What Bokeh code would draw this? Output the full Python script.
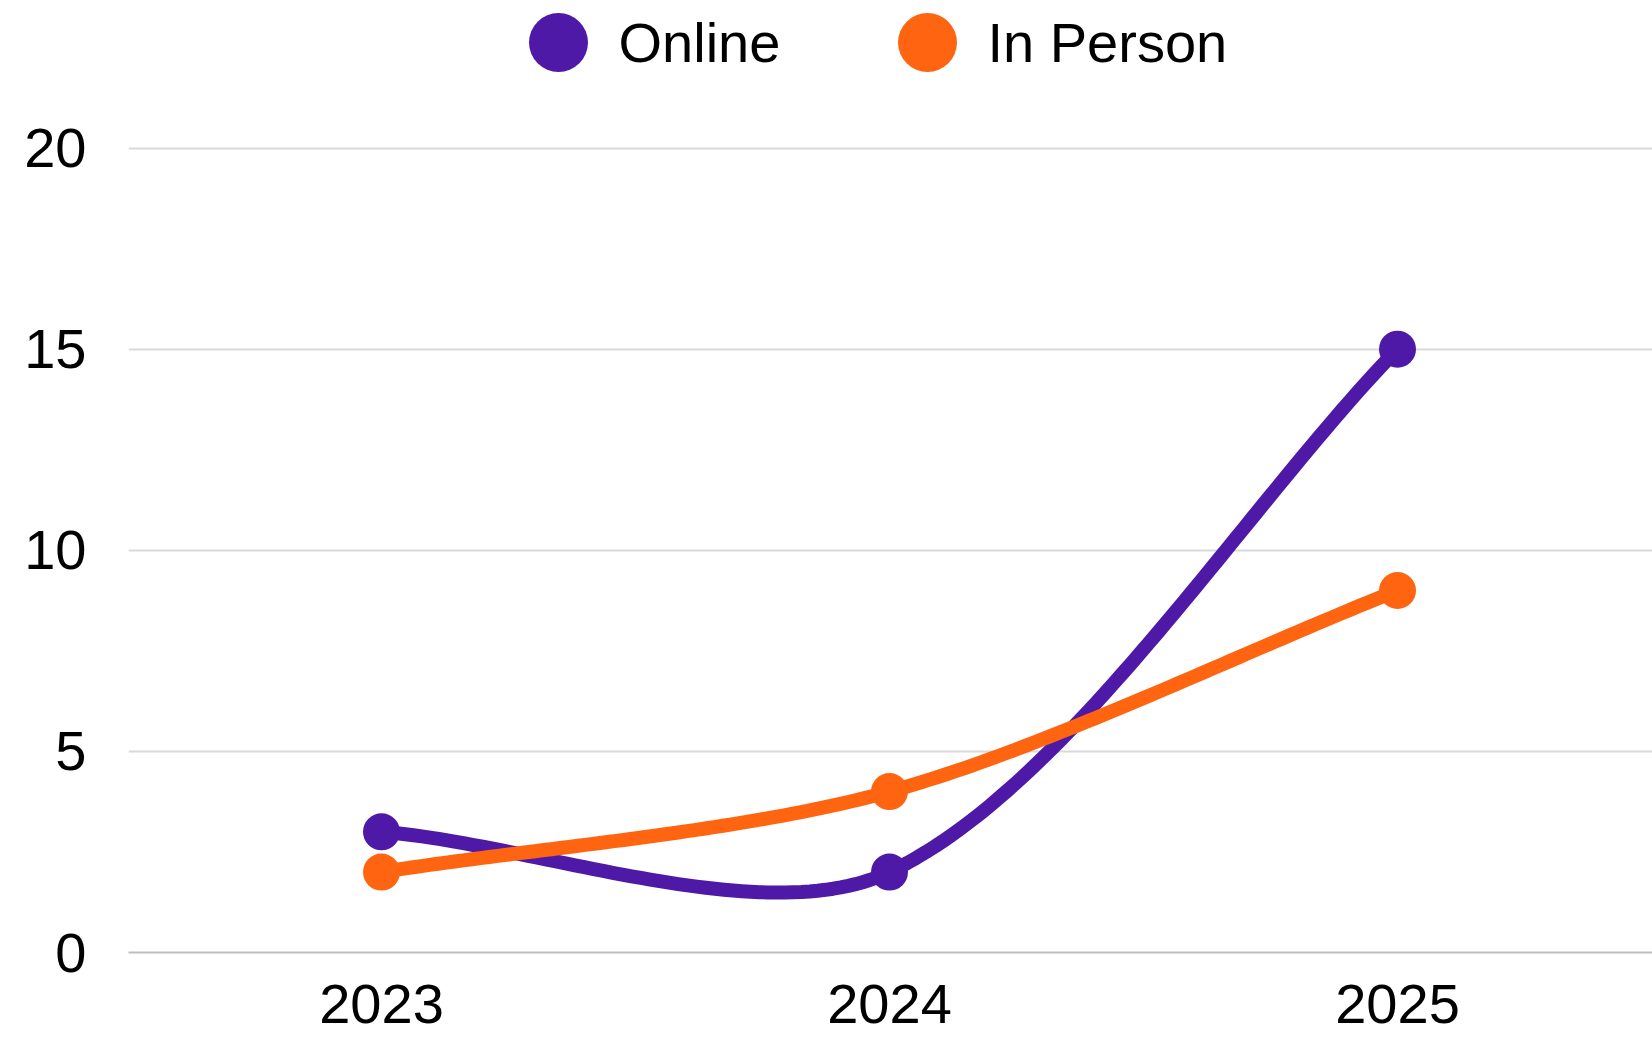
import numpy as np
from bokeh.plotting import figure
from bokeh.models import FixedTicker, Range1d
from bokeh.core.properties import value
from bokeh.embed import file_html
from bokeh.resources import INLINE

years = [2023, 2024, 2025]
online = [3, 2, 15]
in_person = [2, 4, 9]
series_names = ["Online", "In Person"]
series_colors = ["#4F19A8", "#FF6410"]
y_ticks = [0, 5, 10, 15, 20]

FONT = "Liberation Sans"
W, H = 1652, 1037
FRAME_L, FRAME_B = 128, 952      # frame left / bottom in page pixels
PX_X = 508.0                     # pixels per year
PX_Y = (952 - 147.5) / 20        # pixels per unit


def smooth(xs, ys, tension=0.3, n=60):
    # distance-weighted cubic Bezier smoothing, computed in pixel space
    P = np.column_stack([np.asarray(xs, float) * PX_X, np.asarray(ys, float) * PX_Y])
    m = len(P)
    cin, cout = [], []
    for i in range(m):
        prev = P[i - 1] if i > 0 else P[i]
        nxt = P[i + 1] if i < m - 1 else P[i]
        d01 = np.hypot(*(P[i] - prev))
        d12 = np.hypot(*(nxt - P[i]))
        tot = d01 + d12
        s01 = d01 / tot if tot else 0
        s12 = d12 / tot if tot else 0
        cin.append(P[i] - tension * s01 * (nxt - prev))
        cout.append(P[i] + tension * s12 * (nxt - prev))
    out = [P[0]]
    t = np.linspace(0, 1, n)[1:, None]
    for i in range(m - 1):
        a, b, c, d = P[i], cout[i], cin[i + 1], P[i + 1]
        seg = (1 - t) ** 3 * a + 3 * (1 - t) ** 2 * t * b + 3 * (1 - t) * t ** 2 * c + t ** 3 * d
        out.extend(seg)
    out = np.array(out)
    return out[:, 0] / PX_X, out[:, 1] / PX_Y


x_start = 2023 - (381 - FRAME_L) / PX_X
x_end = 2025 + (W - 1397) / PX_X
p = figure(width=W, height=H, x_range=Range1d(x_start, x_end),
           y_range=Range1d(0, FRAME_B / PX_Y),
           toolbar_location=None, output_backend="svg",
           min_border_left=FRAME_L, min_border_right=0, min_border_top=0,
           min_border_bottom=H - FRAME_B)
p.outline_line_color = None
p.background_fill_color = "white"
p.border_fill_color = "white"

p.xaxis.ticker = FixedTicker(ticks=years)
p.yaxis.ticker = FixedTicker(ticks=y_ticks)
p.xgrid.visible = False
p.ygrid.grid_line_color = "#D9D9D9"
p.ygrid.grid_line_width = 2

for ax in (p.xaxis, p.yaxis):
    ax.major_tick_line_color = None
    ax.minor_tick_line_color = None
    ax.major_label_text_font = FONT
    ax.major_label_text_font_size = "56px"
    ax.major_label_text_color = "#000000"
p.yaxis.axis_line_color = None
p.yaxis.major_label_standoff = 36
p.xaxis.axis_line_color = "#BFBFBF"
p.xaxis.axis_line_width = 2
p.xaxis.major_label_standoff = 26

for ys, col in zip([online, in_person], series_colors):
    sx, sy = smooth(years, ys)
    p.line(sx, sy, line_color=col, line_width=14, line_cap="round", line_join="round")
    p.scatter(years, ys, size=37, color=col, line_color=None)

# legend drawn in pixel-space ranges over the frame
p.extra_x_ranges = {"px": Range1d(FRAME_L, W)}
p.extra_y_ranges = {"py": Range1d(FRAME_B, 0)}
leg_marker_x = [558, 927]
leg_text_x = [618, 987]
leg_y = [42, 42]
p.scatter(leg_marker_x, leg_y, size=59, color=series_colors, line_color=None,
          x_range_name="px", y_range_name="py")
p.text(leg_text_x, leg_y, text=series_names, text_font=value(FONT), text_font_size="56px",
       text_color="#000000", text_baseline="middle", text_align="left",
       x_range_name="px", y_range_name="py")

open("out.html", "w").write(file_html(p, INLINE))
